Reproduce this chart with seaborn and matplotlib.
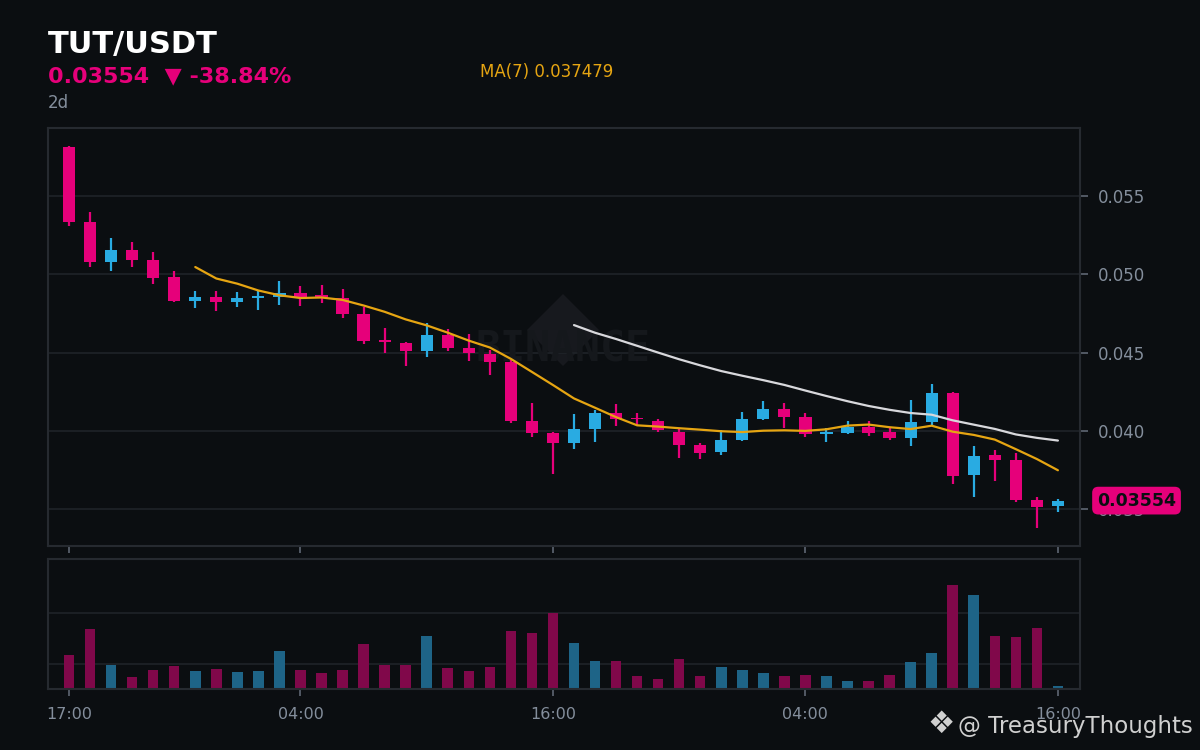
import matplotlib
matplotlib.use("Agg")
import numpy as np
import pandas as pd
import matplotlib.pyplot as plt
import matplotlib.transforms as mtransforms
from matplotlib.patches import Polygon
import seaborn as sns

# ---------------- data ----------------
time_labels = ["17:00", "04:00", "16:00", "04:00", "16:00"]
time_label_idx = [0, 11, 23, 35, 47]

opens = [0.05811, 0.05336, 0.05080, 0.05155, 0.05093, 0.04980, 0.04829, 0.04855,
         0.04823, 0.04848, 0.04855, 0.04880, 0.04855, 0.04848, 0.04746, 0.04573,
         0.04561, 0.04510, 0.04612, 0.04529, 0.04490, 0.04439, 0.04062, 0.03986,
         0.03924, 0.04013, 0.04113, 0.04077, 0.04062, 0.03992, 0.03909, 0.03866,
         0.03943, 0.04077, 0.04139, 0.04088, 0.03981, 0.03988, 0.04024, 0.03992,
         0.03956, 0.04058, 0.04241, 0.03719, 0.03845, 0.03813, 0.03557, 0.03521]
highs = [0.05819, 0.05398, 0.05232, 0.05206, 0.05142, 0.05021, 0.04893, 0.04893,
         0.04887, 0.04893, 0.04957, 0.04925, 0.04931, 0.04906, 0.04791, 0.04657,
         0.04569, 0.04689, 0.04650, 0.04618, 0.04516, 0.04452, 0.04177, 0.03994,
         0.04107, 0.04133, 0.04171, 0.04113, 0.04075, 0.04016, 0.03922, 0.04005,
         0.04120, 0.04190, 0.04177, 0.04113, 0.04016, 0.04062, 0.04062, 0.04024,
         0.04196, 0.04299, 0.04248, 0.03903, 0.03877, 0.03858, 0.03577, 0.03564]
lows = [0.05310, 0.05048, 0.05023, 0.05048, 0.04940, 0.04823, 0.04784, 0.04765,
        0.04791, 0.04772, 0.04804, 0.04797, 0.04816, 0.04720, 0.04554, 0.04500,
        0.04414, 0.04473, 0.04510, 0.04448, 0.04356, 0.04047, 0.03962, 0.03726,
        0.03885, 0.03930, 0.04032, 0.04039, 0.03994, 0.03828, 0.03821, 0.03847,
        0.03937, 0.04071, 0.04020, 0.03962, 0.03930, 0.03981, 0.03969, 0.03943,
        0.03904, 0.04039, 0.03662, 0.03579, 0.03681, 0.03547, 0.03381, 0.03483]
closes = [0.05336, 0.05080, 0.05155, 0.05093, 0.04978, 0.04829, 0.04855, 0.04823,
          0.04848, 0.04850, 0.04880, 0.04855, 0.04853, 0.04746, 0.04573, 0.04567,
          0.04510, 0.04612, 0.04529, 0.04497, 0.04439, 0.04064, 0.03984, 0.03924,
          0.04011, 0.04113, 0.04077, 0.04073, 0.04007, 0.03911, 0.03860, 0.03941,
          0.04075, 0.04139, 0.04090, 0.03981, 0.03983, 0.04024, 0.03988, 0.03956,
          0.04056, 0.04241, 0.03713, 0.03839, 0.03815, 0.03559, 0.03515, 0.03554]
volumes = [1.33, 2.35, 0.94, 0.47, 0.75, 0.90, 0.71, 0.78, 0.67, 0.71, 1.49, 0.75,
           0.63, 0.75, 1.76, 0.94, 0.94, 2.08, 0.82, 0.71, 0.86, 2.27, 2.20, 2.98,
           1.80, 1.10, 1.10, 0.51, 0.39, 1.18, 0.51, 0.86, 0.75, 0.63, 0.51, 0.55,
           0.51, 0.31, 0.31, 0.55, 1.06, 1.41, 4.08, 3.69, 2.08, 2.04, 2.39, 0.12]
price_ticks = [0.035, 0.040, 0.045, 0.050, 0.055]
symbol = "TUT/USDT"
last_price = "0.03554"
change_text = "\u25BC -38.84%"
period = "2d"
ma7_label = "MA(7) 0.037479"

# ---------------- styling ----------------
BG = "#0b0e11"
PINK = "#e6007a"
BLUE = "#29abe2"
VPINK = "#80084a"
VBLUE = "#1e6487"
YEL = "#e6a512"
WHITE_MA = "#d8d8dc"
GRID = "#1f2328"
SPINE = "#262a30"
TICK = "#848e9c"

sns.set_theme(style="dark", rc={
    "axes.facecolor": BG, "figure.facecolor": BG, "axes.edgecolor": SPINE,
    "grid.color": GRID, "axes.grid": True,
})
plt.rcParams["font.family"] = ["DejaVu Sans"]

df = pd.DataFrame({"i": np.arange(len(closes)), "open": opens, "high": highs,
                   "low": lows, "close": closes, "vol": volumes})
df["dir"] = np.where(df["close"] >= df["open"], "up", "down")
df["ma7"] = df["close"].rolling(7).mean()
df["ma25"] = df["close"].rolling(25).mean()
colors = [BLUE if d == "up" else PINK for d in df["dir"]]

W, H = 1200, 750
fig = plt.figure(figsize=(12, 7.5), dpi=100, facecolor=BG)
ax = fig.add_axes([48 / W, 1 - 546 / H, 1032 / W, 418 / H])
axv = fig.add_axes([48 / W, 1 - 689 / H, 1032 / W, 130 / H])

# watermark
dcx, dcy, dh = 563, 330, 36
diamond = Polygon([((dcx - dh) / W, 1 - dcy / H), (dcx / W, 1 - (dcy - dh) / H),
                   ((dcx + dh) / W, 1 - dcy / H), (dcx / W, 1 - (dcy + dh) / H)],
                  closed=True, transform=fig.transFigure, facecolor="#17191e",
                  edgecolor="none", zorder=0.5)
ax.add_patch(diamond)
ax.text(563 / W, 1 - 350 / H, "BINANCE", transform=fig.transFigure, ha="center",
        va="center", fontsize=30, fontfamily="DejaVu Sans Mono", weight="bold",
        color="#15181c", zorder=0.6)

# candles
ax.vlines(df["i"], df["low"], df["high"], colors=colors, linewidth=1.6, zorder=2)
body_h = np.maximum(np.abs(df["close"] - df["open"]), 0.00012)
body_b = np.minimum(df["open"], df["close"])
ax.bar(df["i"], body_h, bottom=body_b, width=0.58, color=colors, zorder=3, linewidth=0)

# moving averages
sns.lineplot(x=df["i"], y=df["ma7"], ax=ax, color=YEL, linewidth=1.6, zorder=4)
sns.lineplot(x=df["i"], y=df["ma25"], ax=ax, color=WHITE_MA, linewidth=1.6, zorder=4)

ax.set_xlim(-1.0, 48.05)
ax.set_ylim(0.03264, 0.05935)
ax.set_xlabel("")
ax.set_ylabel("")
ax.yaxis.tick_right()
ax.set_yticks(price_ticks)
ax.set_yticklabels([f"{t:.3f}" for t in price_ticks])
ax.set_xticks(time_label_idx)
ax.set_xticklabels([])
ax.grid(axis="y", color=GRID, linewidth=1.2)
ax.grid(axis="x", visible=False)
ax.tick_params(axis="y", colors="#5e6673", labelcolor=TICK, labelsize=12,
               length=6, width=1.2, pad=7, right=True, left=False)
ax.tick_params(axis="x", colors="#5e6673", length=5, width=1.2, bottom=True)
for s in ax.spines.values():
    s.set_color(SPINE)
    s.set_linewidth(1.5)

# price tag
trans = mtransforms.blended_transform_factory(ax.transAxes, ax.transData)
ax.text(1.0165, closes[-1], last_price, transform=trans, ha="left", va="center",
        fontsize=12.5, weight="bold", color="#0b0e11", clip_on=False, zorder=10,
        bbox=dict(boxstyle="round,pad=0.28,rounding_size=0.35", fc=PINK, ec="none"))

# volume
sns.barplot(data=df, x="i", y="vol", hue="dir", palette={"up": VBLUE, "down": VPINK},
            dodge=False, width=0.5, saturation=1, legend=False, ax=axv, linewidth=0)
axv.set_xlim(-1.0, 48.05)
axv.set_ylim(0, 5.1)
axv.set_yticks([1, 3])
axv.set_yticklabels([])
axv.tick_params(axis="y", length=0)
axv.set_xlabel("")
axv.set_ylabel("")
axv.set_xticks(time_label_idx)
axv.set_xticklabels(time_labels)
axv.tick_params(axis="x", colors="#5e6673", labelcolor=TICK, labelsize=11.5,
                length=5, width=1.2, pad=8, bottom=True)
axv.grid(axis="y", color=GRID, linewidth=1.2)
axv.grid(axis="x", visible=False)
for s in axv.spines.values():
    s.set_color(SPINE)
    s.set_linewidth(1.5)

# header texts
fig.text(48 / W, 1 - 53 / H, symbol, fontsize=22, weight="bold", color="white",
         va="baseline", ha="left")
fig.text(48 / W, 1 - 82 / H, f"{last_price}  {change_text}", fontsize=16,
         weight="bold", color=PINK, va="baseline", ha="left")
fig.text(48 / W, 1 - 108 / H, period, fontsize=12, color="#848e9c",
         va="baseline", ha="left")
fig.text(480 / W, 1 - 77 / H, ma7_label, fontsize=12,
         color=YEL, va="baseline", ha="left")

# branding
fig.text(941 / W, 1 - 724 / H, "\u2756", fontsize=22, color="#d0d0d0",
         ha="center", va="center")
fig.text(958 / W, 1 - 733 / H, "@ TreasuryThoughts", fontsize=16.5, color="#d0d0d0",
         ha="left", va="baseline")

fig.savefig("out.png", dpi=100, facecolor=BG)
